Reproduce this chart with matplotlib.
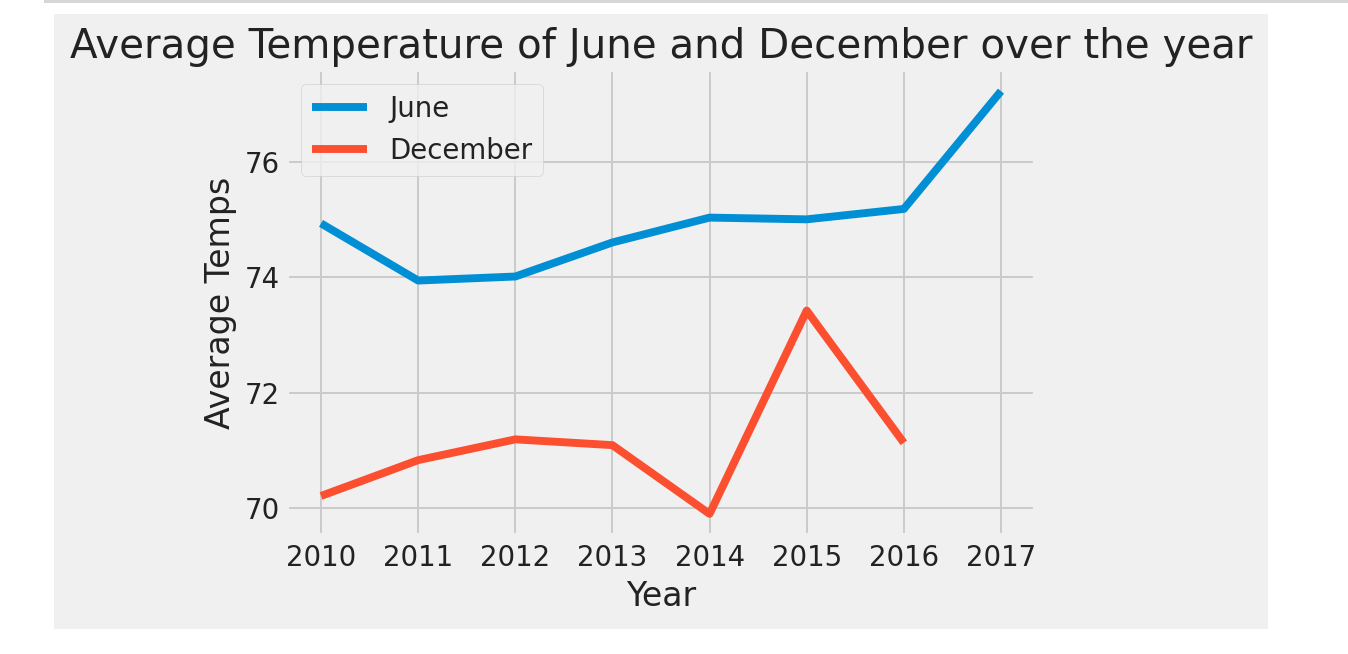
import matplotlib
matplotlib.use("Agg")
import matplotlib.pyplot as plt
from matplotlib.patches import Rectangle

years = [2010, 2011, 2012, 2013, 2014, 2015, 2016, 2017]
june_temps = [74.93, 73.94, 74.01, 74.60, 75.03, 75.00, 75.18, 77.22]
dec_years = [2010, 2011, 2012, 2013, 2014, 2015, 2016]
dec_temps = [70.21, 70.83, 71.19, 71.09, 69.90, 73.42, 71.13]

plt.style.use("fivethirtyeight")
s = 1.42  # screenshot scale

fig = plt.figure(figsize=(13.48, 6.54), dpi=100, facecolor="white")
# grey figure area of the notebook output
fig.patches.append(Rectangle((54 / 1348, 1 - 629 / 654), 1214 / 1348, 615 / 654,
                             transform=fig.transFigure, facecolor="#f0f0f0",
                             edgecolor="none", zorder=-10))
fig.patches.append(Rectangle((44 / 1348, 1 - 3 / 654), 1304 / 1348, 3 / 654,
                             transform=fig.transFigure, facecolor="#d6d6d6",
                             edgecolor="none", zorder=-10))

ax = fig.add_axes([287 / 1348, 1 - 535 / 654, 748 / 1348, 465 / 654])
ax.set_zorder(1)
ax.plot(years, june_temps, label="June", linewidth=4 * s)
ax.plot(dec_years, dec_temps, label="December", linewidth=4 * s)

ax.set_title("Average Temperature of June and December over the year",
             fontsize=20.5 * s, pad=6 * s, color="#222222")
ax.set_xlabel("Year", fontsize=16.8 * s, labelpad=6, color="#222222")
ax.set_ylabel("Average Temps", fontsize=16.8 * s, labelpad=6, color="#222222")
ax.tick_params(labelsize=14 * s, labelcolor="#222222")
ax.tick_params(axis="x", pad=3.5 * s + 1.5)
ax.tick_params(axis="y", pad=3.5 * s)
ax.grid(True, linewidth=1 * s)
leg = ax.legend(loc="upper left", fontsize=14 * s)
for t in leg.get_texts():
    t.set_color("#222222")

fig.savefig("out.png", dpi=100, facecolor="white")
